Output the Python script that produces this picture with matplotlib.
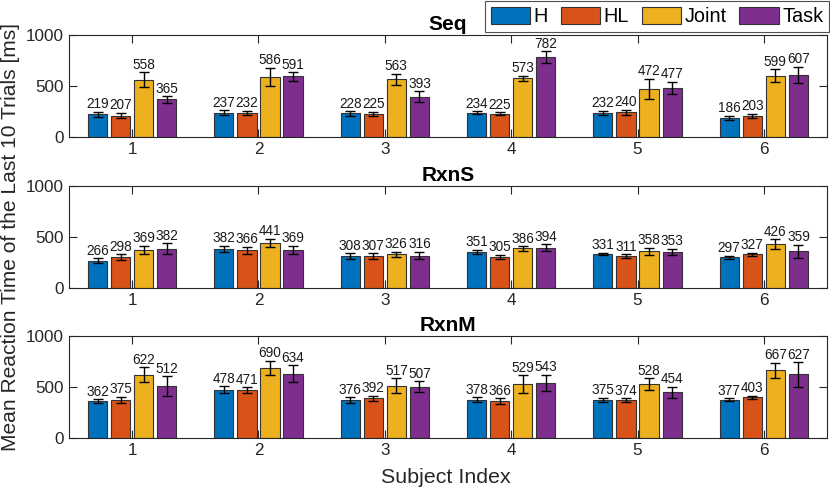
import matplotlib
matplotlib.use('Agg')
import matplotlib.pyplot as plt
import numpy as np

plt.rcParams['font.family'] = ['Liberation Sans', 'DejaVu Sans']

subjects = [1, 2, 3, 4, 5, 6]
conditions = ['H', 'HL', 'Joint', 'Task']
colors = ['#0072BD', '#D95319', '#EDB120', '#7E2F8E']
panels = ['Seq', 'RxnS', 'RxnM']

# mean reaction times [ms], rows = subjects, cols = conditions
seq_mean = [[219, 207, 558, 365],
            [237, 232, 586, 591],
            [228, 225, 563, 393],
            [234, 225, 573, 782],
            [232, 240, 472, 477],
            [186, 203, 599, 607]]
seq_err = [[25, 28, 74, 31],
           [21, 20, 92, 41],
           [23, 18, 52, 51],
           [16, 16, 25, 56],
           [21, 25, 98, 62],
           [21, 21, 62, 77]]

rxns_mean = [[266, 298, 369, 382],
             [382, 366, 441, 369],
             [308, 307, 326, 316],
             [351, 305, 386, 394],
             [331, 311, 358, 353],
             [297, 327, 426, 359]]
rxns_err = [[25, 28, 42, 52],
            [31, 34, 38, 41],
            [31, 29, 28, 36],
            [21, 20, 23, 34],
            [13, 16, 34, 31],
            [18, 18, 51, 64]]

rxnm_mean = [[362, 375, 622, 512],
             [478, 471, 690, 634],
             [376, 392, 517, 507],
             [378, 366, 529, 543],
             [375, 374, 528, 454],
             [377, 403, 667, 627]]
rxnm_err = [[20, 31, 74, 96],
            [34, 29, 69, 83],
            [25, 26, 74, 54],
            [23, 25, 87, 82],
            [21, 20, 59, 54],
            [15, 16, 72, 119]]

means = [seq_mean, rxns_mean, rxnm_mean]
errs = [seq_err, rxns_err, rxnm_err]

fig = plt.figure(figsize=(8.3, 4.91), dpi=100)

left, width, height = 0.0831, 0.9133, 0.2077
bottoms = [0.7216, 0.414, 0.1073]

x = np.array(subjects, dtype=float)
offsets = [-0.274, -0.091, 0.091, 0.274]
bar_w = 0.152

for p, name in enumerate(panels):
    ax = fig.add_axes([left, bottoms[p], width, height])
    m = np.array(means[p])
    e = np.array(errs[p])
    for k in range(len(conditions)):
        xs = x + offsets[k]
        ax.bar(xs, m[:, k], bar_w, color=colors[k], edgecolor='#333333',
               linewidth=0.8, label=conditions[k], zorder=2)
        ax.errorbar(xs, m[:, k], yerr=e[:, k], fmt='none', ecolor='black',
                    elinewidth=1.0, capsize=3.6, capthick=1.0, zorder=3)
        for xi, mi, ei in zip(xs, m[:, k], e[:, k]):
            ax.text(xi, mi + ei + 5, f'{mi:d}', ha='center', va='bottom',
                    fontsize=9.8, color='#1a1a1a')
    ax.set_xlim(0.5, 6.5)
    ax.set_ylim(0, 1000)
    ax.set_xticks(subjects)
    ax.set_yticks([0, 500, 1000])
    ax.tick_params(direction='in', top=True, right=True, length=5.5,
                   width=0.8, labelsize=12.3, colors='#262626',
                   labelcolor='#262626', pad=3.5)
    for s in ax.spines.values():
        s.set_linewidth(0.8)
        s.set_color('#262626')
    ax.set_title(name, fontsize=15, fontweight='bold', pad=3.5)
    if p == 0:
        handles = ax.get_legend_handles_labels()[0]

leg = fig.legend(handles, conditions, loc='upper right',
                 bbox_to_anchor=(0.999, 0.998), ncol=4, fontsize=14.3,
                 frameon=True, fancybox=False, edgecolor='#262626',
                 handlelength=2.0, handleheight=0.95, handletextpad=0.15,
                 columnspacing=0.65, borderpad=0.3, borderaxespad=0.0)
leg.get_frame().set_linewidth(0.8)

fig.text(0.013, 0.518, 'Mean Reaction Time of the Last 10 Trials [ms]',
         rotation=90, ha='center', va='center', fontsize=15.1, color='#262626')
fig.text(0.537, 0.027, 'Subject Index', ha='center', va='center',
         fontsize=15.4, color='#262626')

fig.savefig('out.png', dpi=100)
